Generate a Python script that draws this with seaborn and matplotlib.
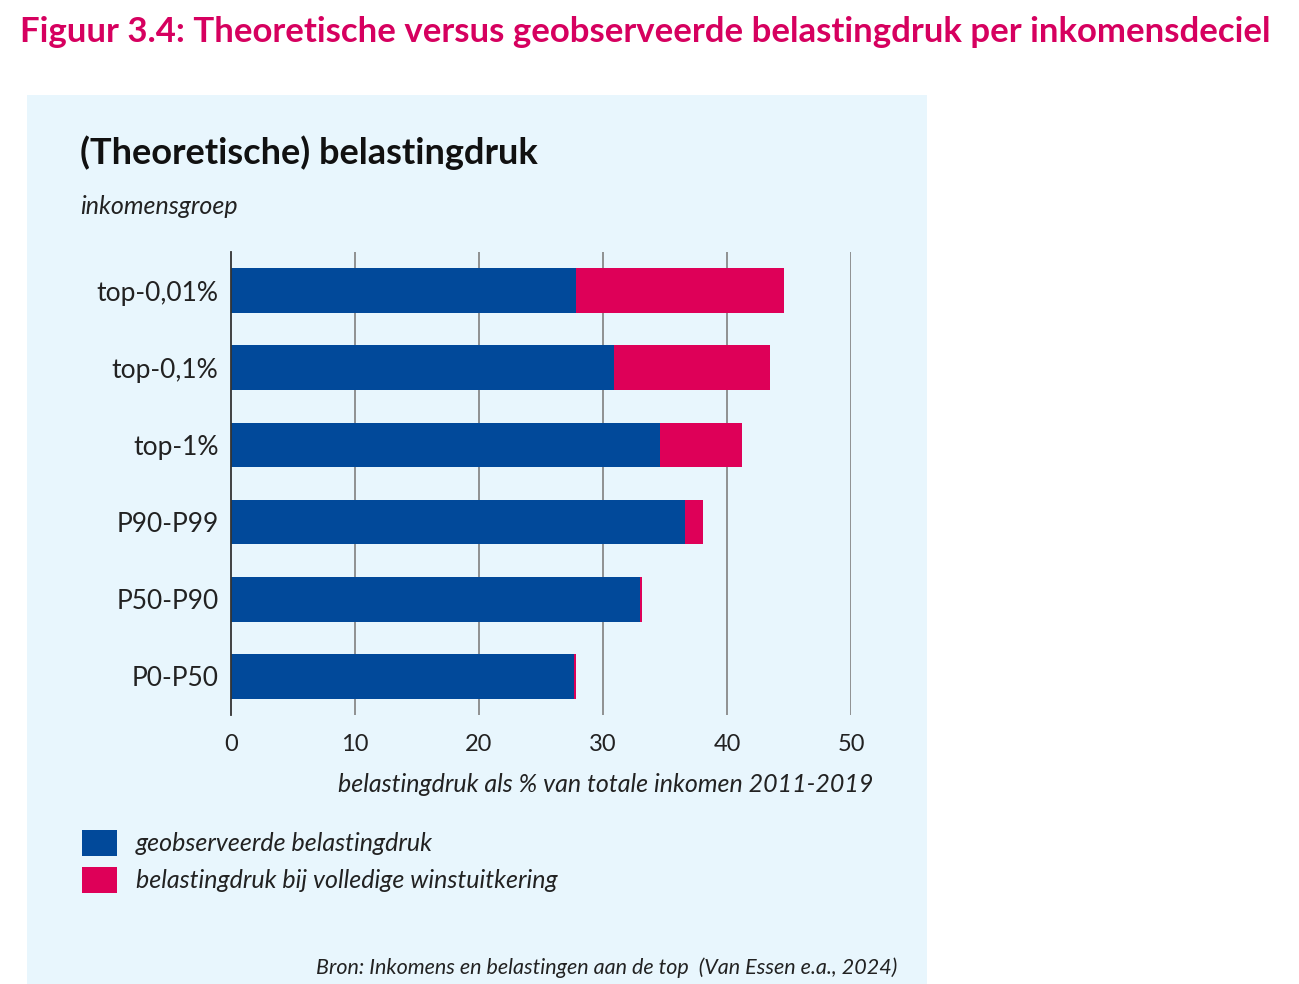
import numpy as np
import pandas as pd
import matplotlib.pyplot as plt
from matplotlib.patches import Rectangle, Patch
import seaborn as sns

groepen = ['top-0,01%', 'top-0,1%', 'top-1%', 'P90-P99', 'P50-P90', 'P0-P50']
geobserveerd = [27.8, 30.9, 34.6, 36.6, 33.0, 27.7]
extra_winstuitkering = [16.8, 12.6, 6.6, 1.5, 0.15, 0.15]
xticks = [0, 10, 20, 30, 40, 50]

BLAUW = '#01499A'
ROZE = '#DE0058'
PANEEL = '#E8F6FD'
TITEL = '#D6005F'

df = pd.DataFrame({
    'groep': groepen,
    'geobserveerd': geobserveerd,
    'extra': extra_winstuitkering,
})
df['theoretisch'] = df['geobserveerd'] + df['extra']

sns.set_style('white')
plt.rcParams['font.family'] = ['Lato', 'DejaVu Sans']

fig = plt.figure(figsize=(12.99, 9.84), dpi=100)
fig.patches.append(Rectangle((27 / 1299, 0), 900 / 1299, 889 / 984,
                             transform=fig.transFigure, facecolor=PANEEL,
                             edgecolor='none', zorder=-5))

ax = fig.add_axes([231 / 1299, 1 - 715 / 984, 620 / 1299, 463 / 984])
ax.set_zorder(2)
ax.patch.set_alpha(0)

# rood = theoretische druk (totaal), blauw eroverheen = geobserveerd
sns.barplot(data=df, x='theoretisch', y='groep', color=ROZE, orient='h',
            width=0.58, saturation=1, linewidth=0, ax=ax, zorder=3)
sns.barplot(data=df, x='geobserveerd', y='groep', color=BLAUW, orient='h',
            width=0.58, saturation=1, linewidth=0, ax=ax, zorder=4)

ax.set_xlim(0, 50)
ax.set_ylim(5.5, -0.5)
ax.set_xticks(xticks)
ax.set_xticklabels([str(t) for t in xticks], fontsize=17, color='#222222')
ax.tick_params(axis='y', labelsize=19, colors='#222222', length=7,
               width=1, direction='out', pad=2)
ax.tick_params(axis='x', length=0, pad=14)
ax.set_xlabel('')
ax.set_ylabel('')
for t in xticks[1:]:
    ax.axvline(t, color='#808080', lw=1.2, zorder=1)
for side in ['top', 'right', 'bottom']:
    ax.spines[side].set_visible(False)
ax.spines['left'].set_color('#333333')
ax.spines['left'].set_linewidth(1.3)
ax.spines['left'].set_zorder(5)

fig.text(20 / 1299, 1 - 32 / 984, 'Figuur 3.4: Theoretische versus geobserveerde belastingdruk per inkomensdeciel',
         fontsize=25, fontweight='bold', color=TITEL, va='center', ha='left')
fig.text(80 / 1299, 1 - 153 / 984, '(Theoretische) belastingdruk',
         fontsize=26, fontweight='bold', color='#111111', va='center', ha='left')
fig.text(80 / 1299, 1 - 207 / 984, 'inkomensgroep', fontsize=18,
         style='italic', color='#222222', va='center', ha='left')
fig.text(873 / 1299, 1 - 784 / 984, 'belastingdruk als % van totale inkomen 2011-2019',
         fontsize=18, style='italic', color='#222222', va='center', ha='right')
fig.text(897 / 1299, 1 - 968 / 984, 'Bron: Inkomens en belastingen aan de top  (Van Essen e.a., 2024)',
         fontsize=15.5, style='italic', color='#222222', va='center', ha='right')

handles = [Patch(facecolor=BLAUW, edgecolor='none'),
           Patch(facecolor=ROZE, edgecolor='none')]
labels = ['geobserveerde belastingdruk', 'belastingdruk bij volledige winstuitkering']
leg = fig.legend(handles, labels, loc='upper left',
                 bbox_to_anchor=(82 / 1299, 1 - 830 / 984), frameon=False,
                 prop={'size': 18, 'style': 'italic'}, handlelength=1.4,
                 handleheight=1.2, handletextpad=0.75, labelspacing=0.45,
                 borderpad=0, borderaxespad=0)
for txt in leg.get_texts():
    txt.set_color('#222222')

fig.savefig('out.png', dpi=100, facecolor='white')
